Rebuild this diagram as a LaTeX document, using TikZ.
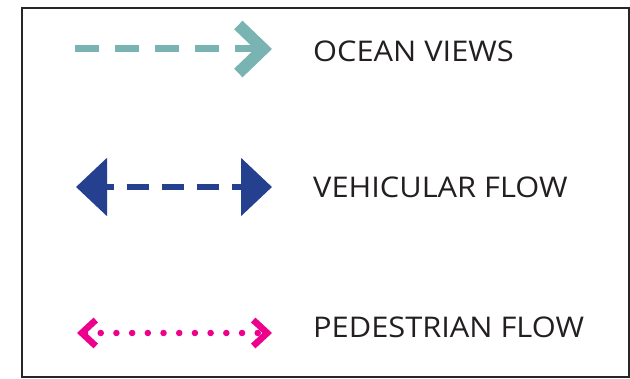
\documentclass[tikz,border=0pt]{standalone}
\usepackage{fontspec}
\setmainfont{Open Sans}[FakeStretch=1.08]
\usepackage{tikz}
\usetikzlibrary{arrows.meta, positioning}

\definecolor{oceanteal}{HTML}{79B4B3}
\definecolor{vehicblue}{HTML}{25408F}
\definecolor{pedpink}{HTML}{EC008C}
\definecolor{legendtext}{HTML}{231F20}

\begin{document}
\begin{tikzpicture}[x=1pt, y=-1pt,
  every node/.style={font=\fontsize{28.5}{30}\selectfont, text=legendtext, inner sep=0pt},
  label/.style={anchor=base west}]
  \useasboundingbox (0,0) rectangle (630,379);
  % frame
  \draw[line width=2pt, black!85] (22,8) rectangle (629,377);

  % Ocean views
  \coordinate (oceanl) at (75,49);
  \coordinate (oceanr) at (272,49);
  \draw[oceanteal, line width=7pt, dash pattern=on 24pt off 16pt,
        -{Straight Barb[sharp, length=25pt, width=48pt, line width=12pt]}] (oceanl) -- (oceanr);
  \node[label] (ocean) at (313,62) {OCEAN VIEWS};

  % Vehicular flow
  \coordinate (vehicl) at (76,187);
  \coordinate (vehicr) at (272,187);
  \draw[vehicblue, line width=6pt, dash pattern=on 22pt off 13pt, dash phase=14pt,
        {Triangle[length=31pt, width=57pt]}-{Triangle[length=31pt, width=57pt]}] (vehicl) -- (vehicr);
  \node[label] (vehic) at (313,198) {VEHICULAR FLOW};

  % Pedestrian flow
  \coordinate (pedl) at (77,333);
  \coordinate (pedr) at (272,333);
  \draw[pedpink, line width=6.5pt, line cap=round, dash pattern=on 0pt off 15.7pt,
        {Straight Barb[sharp, length=14pt, width=26pt, line width=6.5pt]}-{Straight Barb[sharp, length=14pt, width=26pt, line width=6.5pt]}] (pedl) -- (pedr);
  \node[label] (ped) at (313,338) {PEDESTRIAN FLOW};
\end{tikzpicture}
\end{document}
